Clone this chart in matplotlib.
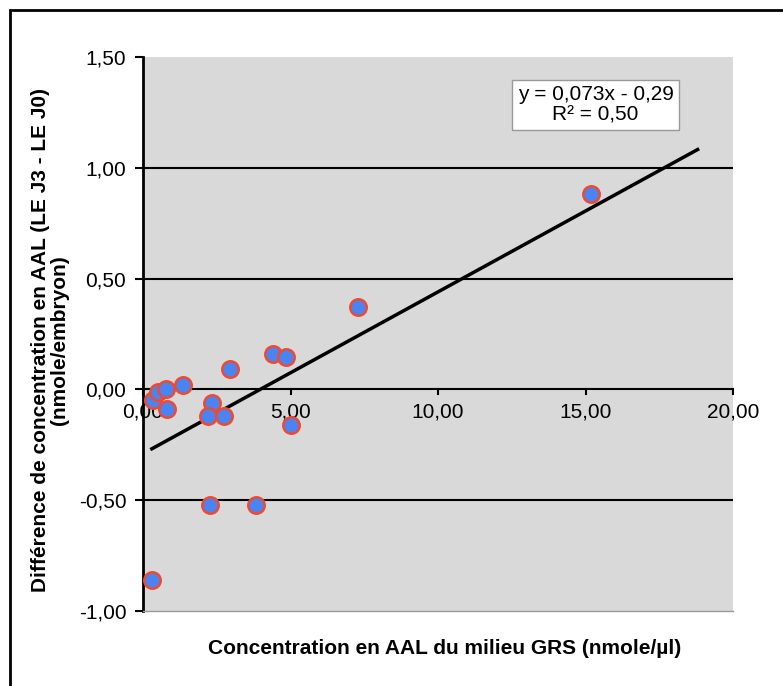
# AAL concentration difference vs GRS medium concentration (scatter + linear trend)
import numpy as np
import matplotlib.pyplot as plt
from matplotlib.patches import Rectangle
from matplotlib.ticker import FuncFormatter

# data
grs_conc = [0.30, 0.34, 0.51, 0.78, 0.81, 1.35, 2.33, 2.20, 2.74, 2.94,
            4.39, 4.86, 5.03, 2.26, 3.82, 7.30, 15.20]
aal_diff = [-0.86, -0.05, -0.01, 0.00, -0.09, 0.02, -0.06, -0.12, -0.12, 0.09,
            0.16, 0.145, -0.16, -0.52, -0.52, 0.37, 0.88]
slope, intercept = 0.073, -0.29
trend_x = [0.3, 18.8]
x_ticks = [0, 5, 10, 15, 20]
y_ticks = [-1.0, -0.5, 0.0, 0.5, 1.0, 1.5]
grid_y = [-0.5, 0.5, 1.0]

plt.rcParams['font.family'] = ['Liberation Sans', 'DejaVu Sans']
FS = 15

fig = plt.figure(figsize=(7.83, 6.86), dpi=100)
ax = fig.add_axes([143/783, 1 - 611/686, 590/783, 554/686])

# outer chart border (only top/left visible)
fig.patches.append(Rectangle((10/783, -0.2), 1.2, 1.2 - 10/686,
                             transform=fig.transFigure, fill=False,
                             edgecolor='black', linewidth=2, zorder=0))

ax.set_facecolor('#d9d9d9')
ax.set_xlim(0, 20)
ax.set_ylim(-1.0, 1.5)

fmt = FuncFormatter(lambda v, pos: f'{v:.2f}'.replace('.', ','))
ax.set_xticks(x_ticks)
ax.set_yticks(y_ticks)
ax.xaxis.set_major_formatter(fmt)
ax.yaxis.set_major_formatter(fmt)

for s in ['top', 'right']:
    ax.spines[s].set_visible(False)
ax.spines['bottom'].set_color('#999999')
ax.spines['bottom'].set_linewidth(1)
ax.spines['left'].set_linewidth(2)
ax.spines['left'].set_position(('data', 0))

# x axis crosses at y = 0
ax.axhline(0, color='black', linewidth=1.5, zorder=2)
for g in grid_y:
    ax.axhline(g, color='black', linewidth=1.5, zorder=1)

ax.tick_params(axis='y', length=6, width=1.5, pad=6, labelsize=FS, direction='out')
ax.tick_params(axis='x', length=0, labelsize=FS)
ax.set_xticklabels([])
for v in x_ticks:
    ax.plot([v, v], [0, -0.022], color='black', linewidth=1.5, clip_on=False, zorder=2)
    ax.text(v, -0.06, fmt(v), ha='center', va='top', fontsize=FS)

tx = np.array(trend_x)
ax.plot(tx, slope * tx + intercept, color='black', linewidth=2.5, zorder=3)

ax.scatter(grs_conc, aal_diff, s=140, color='#4a84f2', edgecolor='#ef4a30',
           linewidth=1.8, zorder=4, clip_on=False)

ax.text(15.34, 1.284, 'y = 0,073x - 0,29\nR² = 0,50', ha='center', va='center',
        fontsize=FS, linespacing=1.1,
        bbox=dict(boxstyle='square,pad=0.25', facecolor='white', edgecolor='#999999'))

fig.text(445/783, 1 - 648/686, 'Concentration en AAL du milieu GRS (nmole/µl)',
         ha='center', va='center', fontsize=FS, fontweight='bold')
fig.text(50/783, 1 - 340/686, 'Différence de concentration en AAL (LE J3 - LE J0)\n(nmole/embryon)',
         ha='center', va='center', rotation=90, fontsize=FS, fontweight='bold',
         linespacing=1.05)

fig.savefig('out.png', dpi=100)
